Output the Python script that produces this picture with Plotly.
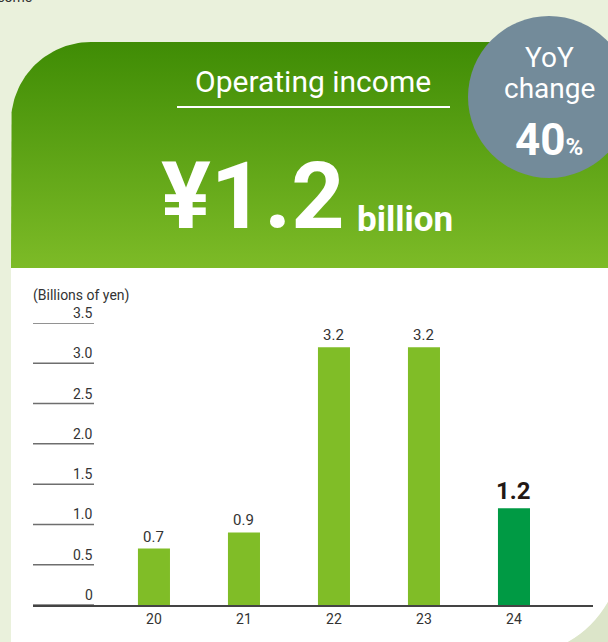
import numpy as np
import plotly.graph_objects as go

# ---- data -------------------------------------------------------------
fiscal_years = ["20", "21", "22", "23", "24"]
operating_income = [0.7, 0.9, 3.2, 3.2, 1.2]          # billions of yen
ytick_values = [0, 0.5, 1.0, 1.5, 2.0, 2.5, 3.0, 3.5]
ytick_labels = ["0", "0.5", "1.0", "1.5", "2.0", "2.5", "3.0", "3.5"]
yoy_change_pct = 40
unit_label = "(Billions of yen)"
title_text = "Operating income"

# ---- styling ----------------------------------------------------------
W, H = 608, 642
FONT = "Roboto"
PAGE_BG = "#EAF1DC"
GREEN_TOP = "#3F8C05"
GREEN_BOTTOM = "#7DBB27"
BAR_GREEN = "#80BD27"
BAR_LATEST = "#009A44"
CIRCLE = "#738B9A"
TEXT = "#333333"

fig = go.Figure()

# Header panel with rounded top-left corner, filled with a vertical gradient
R = 80
left, top, bottom = 11, 42, 268
theta = np.linspace(np.pi, 1.5 * np.pi, 40)
arc_x = (left + R) + R * np.cos(theta)
arc_y = (top + R) + R * np.sin(theta)
panel_x = [left] + list(arc_x) + [W, W, left]
panel_y = [bottom] + list(arc_y) + [top, bottom, bottom]
fig.add_trace(go.Scatter(
    x=panel_x, y=panel_y, mode="lines", fill="toself",
    line=dict(width=0),
    fillgradient=dict(type="vertical", start=top, stop=bottom,
                      colorscale=[[0, GREEN_TOP], [1, GREEN_BOTTOM]]),
    hoverinfo="skip", showlegend=False, xaxis="x", yaxis="y",
))

# Bar chart
bar_colors = [BAR_GREEN] * (len(fiscal_years) - 1) + [BAR_LATEST]
fig.add_trace(go.Bar(
    x=fiscal_years, y=operating_income, marker=dict(color=bar_colors, line=dict(width=0)),
    width=0.356, xaxis="x2", yaxis="y2", hoverinfo="skip", showlegend=False,
))

shapes = []
# white chart panel with a curled bottom-right corner
shapes.append(dict(type="path", xref="x", yref="y", layer="below",
                   path=f"M {left},{bottom} L {W},{bottom} L {W},602 Q 593,628 568,{H} L {left},{H} Z",
                   fillcolor="white", line=dict(width=0)))
shapes.append(dict(type="path", xref="x", yref="y", layer="below",
                   path=f"M {W},602 Q 593,628 568,{H} L {W},{H} Z",
                   fillcolor="#DCE5C9", line=dict(width=0)))
# underline below the title
shapes.append(dict(type="line", xref="x", yref="y", x0=177, x1=450, y0=107, y1=107,
                   line=dict(color="white", width=2)))
# YoY badge
cx, cy, cr = 549, 97, 81
shapes.append(dict(type="circle", xref="x", yref="y", x0=cx - cr, x1=cx + cr,
                   y0=cy - cr, y1=cy + cr, fillcolor=CIRCLE, line=dict(width=0),
                   layer="above"))
# short rules under each y tick label
for v in ytick_values:
    shapes.append(dict(type="line", xref="x", yref="y2", x0=33, x1=94, y0=v, y1=v,
                       line=dict(color="#6E6E6E", width=1.5)))

annotations = []
# cut-off heading from the previous block
annotations.append(dict(xref="paper", yref="paper", x=34 / W, y=1 + 3 / H,
                        xanchor="right", yanchor="middle",
                        text="Operating income", showarrow=False,
                        font=dict(family=FONT, size=14, color=TEXT)))
annotations.append(dict(xref="x", yref="y", x=313, y=81, text=title_text, showarrow=False,
                        font=dict(family=FONT, size=30, color="white")))
annotations.append(dict(xref="x", yref="y", x=347, y=253, xanchor="right", yanchor="bottom",
                        text=f"<b>¥{operating_income[-1]:.1f}</b>", showarrow=False,
                        font=dict(family=FONT, size=93, color="white")))
annotations.append(dict(xref="x", yref="y", x=355, y=242, xanchor="left", yanchor="bottom",
                        text="<b>billion</b>", showarrow=False,
                        font=dict(family=FONT, size=35, color="white")))
# badge text
annotations.append(dict(xref="x", yref="y", x=cx, y=57, text="YoY", showarrow=False,
                        font=dict(family=FONT, size=28, color="white")))
annotations.append(dict(xref="x", yref="y", x=cx, y=88, text="change", showarrow=False,
                        font=dict(family=FONT, size=28, color="white")))
annotations.append(dict(xref="x", yref="y", x=cx, y=140,
                        text=f"<b>{yoy_change_pct}</b><b><span style='font-size:24px'>%</span></b>",
                        showarrow=False, font=dict(family=FONT, size=44, color="white")))
# unit label
annotations.append(dict(xref="x", yref="y", x=31, y=295, xanchor="left", text=unit_label,
                        showarrow=False, font=dict(family=FONT, size=14, color=TEXT)))
# y tick labels sitting on their rules
for v, t in zip(ytick_values, ytick_labels):
    annotations.append(dict(xref="x", yref="y2", x=95, y=v, xanchor="right", yanchor="bottom",
                            yshift=0, text=t, showarrow=False,
                            font=dict(family=FONT, size=14, color=TEXT)))
# value labels above the bars (category axis positions by index)
for i, v in enumerate(operating_income):
    latest = i == len(operating_income) - 1
    annotations.append(dict(
        xref="x2", yref="y2", x=i, y=v, yanchor="bottom", yshift=1, showarrow=False,
        text=f"<b>{v:.1f}</b>" if latest else f"{v:.1f}",
        font=dict(family=FONT, size=24 if latest else 15, color="#231815" if latest else TEXT)))

fig.update_layout(
    width=W, height=H, autosize=False,
    margin=dict(l=0, r=0, t=0, b=0, pad=0),
    paper_bgcolor=PAGE_BG, plot_bgcolor="rgba(0,0,0,0)",
    shapes=shapes, annotations=annotations, showlegend=False,
    xaxis=dict(domain=[0, 1], range=[0, W], visible=False, fixedrange=True),
    yaxis=dict(domain=[0, 1], range=[H, 0], visible=False, fixedrange=True),
    xaxis2=dict(domain=[33 / W, 593 / W], anchor="y2", type="category",
                range=[-1.344, 4.878], showline=True, linecolor="#444444", linewidth=1.5,
                showgrid=False, zeroline=False, ticks="", ticklabelstandoff=0,
                tickfont=dict(family=FONT, size=14, color=TEXT), fixedrange=True),
    yaxis2=dict(domain=[1 - 605 / H, 1 - 323 / H], anchor="x2", range=[0, 3.5],
                showticklabels=False, showgrid=False, zeroline=False, showline=False,
                fixedrange=True),
)

fig.write_html("out.html")
